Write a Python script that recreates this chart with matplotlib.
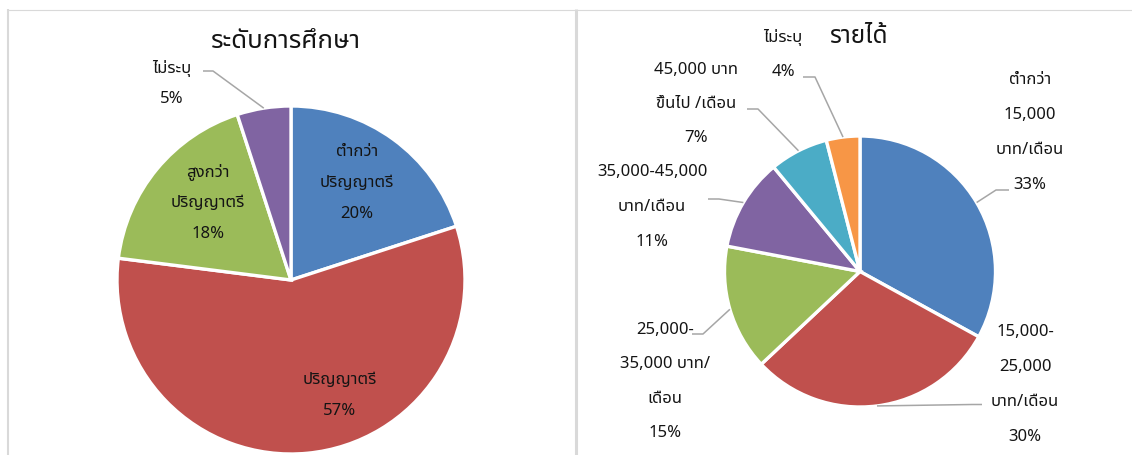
import matplotlib
matplotlib.use("Agg")
import matplotlib.pyplot as plt
import numpy as np

# ---------------- data ----------------
edu_title = "ระดับการศึกษา"
edu_labels = [["ต่ำกว่า", "ปริญญาตรี"], ["ปริญญาตรี"], ["สูงกว่า", "ปริญญาตรี"], ["ไม่ระบุ"]]
edu_values = [20, 57, 18, 5]

inc_title = "รายได้"
inc_labels = [["ต่ำกว่า", "15,000", "บาท/เดือน"],
              ["15,000-", "25,000", "บาท/เดือน"],
              ["25,000-", "35,000 บาท/", "เดือน"],
              ["35,000-45,000", "บาท/เดือน"],
              ["45,000 บาท", "ขึ้นไป /เดือน"],
              ["ไม่ระบุ"]]
inc_values = [33, 30, 15, 11, 7, 4]

colors = ["#4F81BD", "#C0504D", "#9BBB59", "#8064A2", "#4BACC6", "#F79646"]

# ---------------- layout (pixels) ----------------
W, H = 1132, 456
FONT = ["Noto Sans", "Noto Sans Thai", "DejaVu Sans"]
TXT = "#141414"
LEAD = "#A6A6A6"

fig = plt.figure(figsize=(W / 100, H / 100), dpi=100)
ax = fig.add_axes([0, 0, 1, 1])

def Y(py):
    return H - py

# panel frames
ax.plot([7, W], [Y(10.5), Y(10.5)], color="#D9D9D9", lw=0.8, solid_capstyle="butt")
ax.plot([8, 8], [Y(10), 0], color="#D9D9D9", lw=1.5, solid_capstyle="butt")
ax.plot([575.5, 575.5], [Y(10), 0], color="#D9D9D9", lw=2.2, solid_capstyle="butt")

def draw_pie(values, cx, cy, r):
    wedges, _ = ax.pie(values, colors=colors[:len(values)], startangle=90,
                       counterclock=False, center=(cx, Y(cy)), radius=r,
                       wedgeprops=dict(edgecolor="white", linewidth=2.4))
    return wedges

def mid_point(w, frac=1.0):
    a = np.deg2rad((w.theta1 + w.theta2) / 2)
    cx, cy = w.center
    return cx + w.r * frac * np.cos(a), cy + w.r * frac * np.sin(a)

def label(lines, x, y0, dy, size=12):
    for i, s in enumerate(lines):
        ax.text(x, Y(y0 + i * dy), s, ha="center", va="center",
                fontsize=size, color=TXT, family=FONT)

def leader(w, elbow, end):
    px, py = mid_point(w)
    ax.plot([px, elbow[0], end[0]], [py, Y(elbow[1]), Y(end[1])],
            color=LEAD, lw=1.1, solid_capstyle="butt")

# ----- left pie -----
ew = draw_pie(edu_values, 291, 281, 174)
ax.text(286, Y(41), edu_title, ha="center", va="center", fontsize=18.5,
        color=TXT, family=FONT)
edu_pos = [(357, 152, 31), (340, 380, 31), (208, 172, 31), (172, 68, 31)]
for lines, v, (x, y, dy) in zip(edu_labels, edu_values, edu_pos):
    label(lines + [f"{v}%"], x, y, dy)
leader(ew[3], (213, 72), (203, 72))

# ----- right pie -----
iw = draw_pie(inc_values, 860, 272.5, 135.5)
ax.text(858, Y(37), inc_title, ha="center", va="center", fontsize=17.5,
        color=TXT, family=FONT)
inc_pos = [(1030, 80, 35), (1025, 332, 35), (665, 330, 34.5),
           (652, 172, 35), (696, 70, 34), (783, 37, 35)]
for lines, v, (x, y, dy) in zip(inc_labels, inc_values, inc_pos):
    label(lines + [f"{v}%"], x, y, dy)
leader(iw[0], (996, 191), (1009, 191))
leader(iw[1], (972, 405.5), (982, 405.5))
leader(iw[2], (703, 335), (692, 335))
leader(iw[3], (719, 200), (708, 200))
leader(iw[4], (758, 110), (747, 110))
leader(iw[5], (815, 78), (803, 78))

ax.set_xlim(0, W)
ax.set_ylim(0, H)
ax.set_aspect("auto")
ax.axis("off")
fig.savefig("out.png", dpi=100)
